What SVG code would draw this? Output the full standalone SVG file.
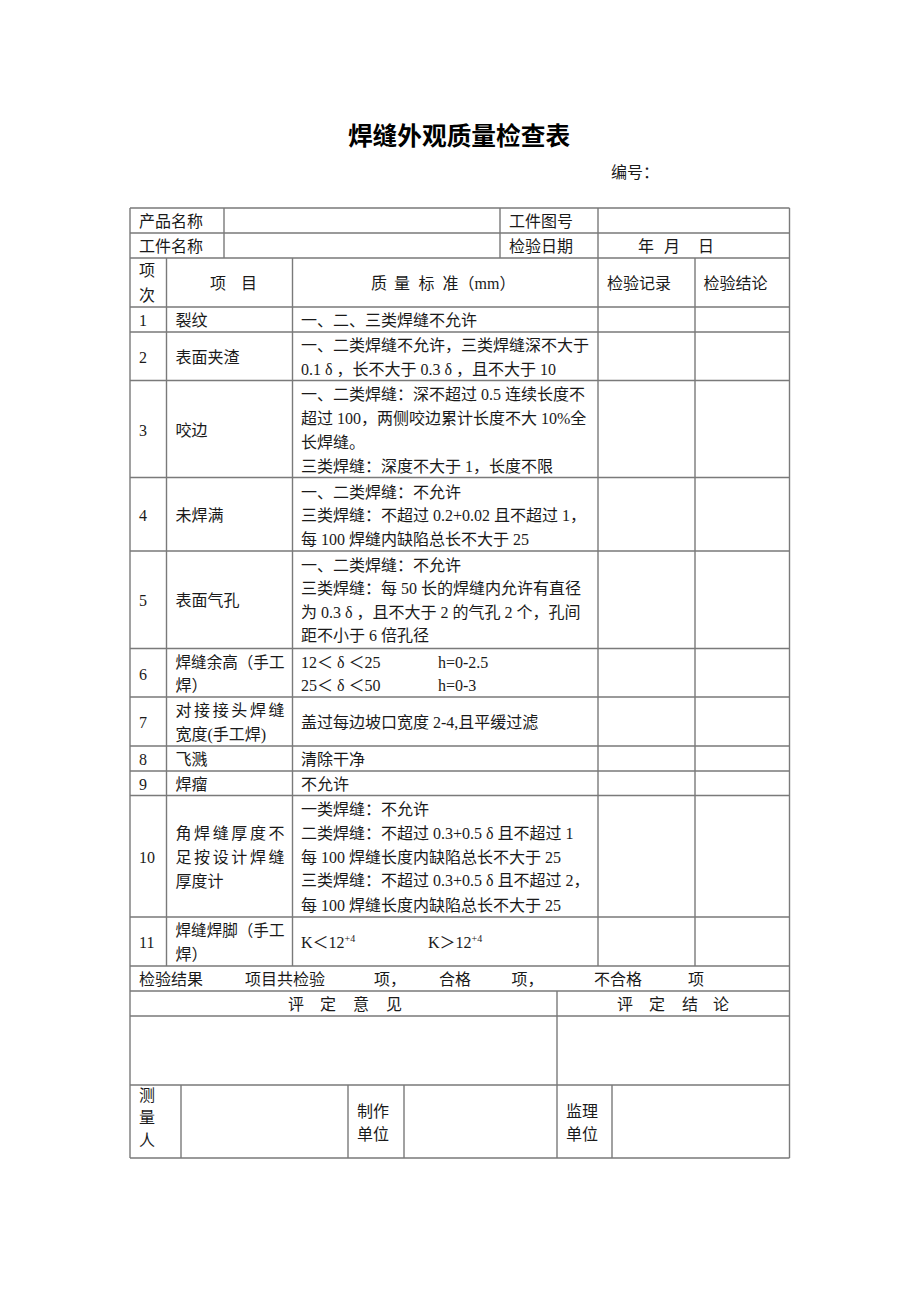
<svg xmlns="http://www.w3.org/2000/svg" width="920" height="1302" viewBox="0 0 920 1302">
<style>
  .t { font-family: "Liberation Serif", "Noto Sans CJK SC", serif; font-size: 16px; fill: #1a1a1a; }
  .ttl { font-family: "Noto Sans CJK SC", "Liberation Sans", sans-serif; font-size: 24.7px; font-weight: 700; fill: #000; }
  .grid { stroke: #7a7a7a; stroke-width: 1.4; fill: none; }
  .sup { font-size: 10px; }
  .d { letter-spacing: 4px; }
</style>
<rect width="920" height="1302" fill="#ffffff"/>
<g id="title">
  <text class="ttl" x="459" y="145" text-anchor="middle">焊缝外观质量检查表</text>
  <text class="t" x="611" y="178">编号：</text>
</g>
<g id="grid">
  <path class="grid" d="M130,208H789.5 M130,233H789.5 M130,258H789.5 M130,307H789.5 M130,332H789.5 M130,380.5H789.5 M130,477.5H789.5 M130,551H789.5 M130,648.5H789.5 M130,697H789.5 M130,746H789.5 M130,771H789.5 M130,795.5H789.5 M130,917H789.5 M130,966H789.5 M130,991H789.5 M130,1016H789.5 M130,1085H789.5 M130,1158H789.5"/>
  <path class="grid" d="M130,208V1158 M789.5,208V1158 M224,208V258 M500,208V258 M598,208V966 M166.5,258V966 M292.5,258V966 M695,258V966 M557,991V1158 M181,1085V1158 M348,1085V1158 M404,1085V1158 M612,1085V1158"/>
</g>
<g id="header">
  <text class="t" x="139" y="227">产品名称</text>
  <text class="t" x="509" y="227">工件图号</text>
  <text class="t" x="139" y="252">工件名称</text>
  <text class="t" x="509" y="252">检验日期</text>
  <text class="t" x="638" y="252">年 <tspan x="664">月 </tspan><tspan x="698">日</tspan></text>
  <text class="t" x="139" y="276">项</text>
  <text class="t" x="139" y="301">次</text>
  <text class="t" x="210" y="289">项 <tspan x="241">目</tspan></text>
  <text class="t" x="371" y="289">质 <tspan x="394">量 </tspan><tspan x="418.5">标 </tspan><tspan x="442.5">准（mm）</tspan></text>
  <text class="t" x="607" y="289">检验记录</text>
  <text class="t" x="703.5" y="289">检验结论</text>
</g>
<g id="row1">
  <text class="t" x="139" y="326">1</text>
  <text class="t" x="175.5" y="326">裂纹</text>
  <text class="t" x="301" y="326">一、二、三类焊缝不允许</text>
</g>
<g id="row2">
  <text class="t" x="139" y="363">2</text>
  <text class="t" x="175.5" y="363">表面夹渣</text>
  <text class="t" x="301" y="351">一、二类焊缝不允许，三类焊缝深不大于</text>
  <text class="t" x="301" y="374.5">0.1<tspan class="d" dx="4">δ</tspan>，长不大于 0.3<tspan class="d" dx="4">δ</tspan>，且不大于 10</text>
</g>
<g id="row3">
  <text class="t" x="139" y="435.5">3</text>
  <text class="t" x="175.5" y="435.5">咬边</text>
  <text class="t" x="301" y="399.5">一、二类焊缝：深不超过 0.5 连续长度不</text>
  <text class="t" x="301" y="423.5">超过 100，两侧咬边累计长度不大 10%全</text>
  <text class="t" x="301" y="448">长焊缝。</text>
  <text class="t" x="301" y="472">三类焊缝：深度不大于 1，长度不限</text>
</g>
<g id="row4">
  <text class="t" x="139" y="521">4</text>
  <text class="t" x="175.5" y="521">未焊满</text>
  <text class="t" x="301" y="498">一、二类焊缝：不允许</text>
  <text class="t" x="301" y="521">三类焊缝：不超过 0.2+0.02 且不超过 1，</text>
  <text class="t" x="301" y="544.5">每 100 焊缝内缺陷总长不大于 25</text>
</g>
<g id="row5">
  <text class="t" x="139" y="606">5</text>
  <text class="t" x="175.5" y="606">表面气孔</text>
  <text class="t" x="301" y="571">一、二类焊缝：不允许</text>
  <text class="t" x="301" y="594">三类焊缝：每 50 长的焊缝内允许有直径</text>
  <text class="t" x="301" y="618">为 0.3<tspan class="d" dx="4">δ</tspan>，且不大于 2 的气孔 2 个，孔间</text>
  <text class="t" x="301" y="641">距不小于 6 倍孔径</text>
</g>
<g id="row6">
  <text class="t" x="139" y="679.5">6</text>
  <text class="t" x="175.5" y="668" textLength="109" lengthAdjust="spacingAndGlyphs">焊缝余高（手工</text>
  <text class="t" x="175.5" y="691">焊）</text>
  <text class="t" x="301" y="668">12＜<tspan class="d" dx="4">δ</tspan>＜25 <tspan x="438">h=0-2.5</tspan></text>
  <text class="t" x="301" y="691">25＜<tspan class="d" dx="4">δ</tspan>＜50 <tspan x="438">h=0-3</tspan></text>
</g>
<g id="row7">
  <text class="t" x="139" y="728">7</text>
  <text class="t" x="175.5" y="716" textLength="109" lengthAdjust="spacing">对接接头焊缝</text>
  <text class="t" x="175.5" y="739.5">宽度(手工焊)</text>
  <text class="t" x="301" y="728">盖过每边坡口宽度 2-4,且平缓过滤</text>
</g>
<g id="row8">
  <text class="t" x="139" y="764.5">8</text>
  <text class="t" x="175.5" y="764.5">飞溅</text>
  <text class="t" x="301" y="764.5">清除干净</text>
</g>
<g id="row9">
  <text class="t" x="139" y="790">9</text>
  <text class="t" x="175.5" y="790">焊瘤</text>
  <text class="t" x="301" y="790">不允许</text>
</g>
<g id="row10">
  <text class="t" x="139" y="863">10</text>
  <text class="t" x="175.5" y="839" textLength="109" lengthAdjust="spacing">角焊缝厚度不</text>
  <text class="t" x="175.5" y="863" textLength="109" lengthAdjust="spacing">足按设计焊缝</text>
  <text class="t" x="175.5" y="887">厚度计</text>
  <text class="t" x="301" y="814.5">一类焊缝：不允许</text>
  <text class="t" x="301" y="839">二类焊缝：不超过 0.3+0.5<tspan class="d" dx="4">δ</tspan>且不超过 1</text>
  <text class="t" x="301" y="863">每 100 焊缝长度内缺陷总长不大于 25</text>
  <text class="t" x="301" y="886">三类焊缝：不超过 0.3+0.5<tspan class="d" dx="4">δ</tspan>且不超过 2，</text>
  <text class="t" x="301" y="911">每 100 焊缝长度内缺陷总长不大于 25</text>
</g>
<g id="row11">
  <text class="t" x="139" y="948">11</text>
  <text class="t" x="175.5" y="935.5" textLength="109" lengthAdjust="spacingAndGlyphs">焊缝焊脚（手工</text>
  <text class="t" x="175.5" y="959.5">焊）</text>
  <text class="t" x="301" y="948">K＜12<tspan class="sup" dy="-6">+4</tspan></text>
  <text class="t" x="428" y="948">K＞12<tspan class="sup" dy="-6">+4</tspan></text>
</g>
<g id="result">
  <text class="t" x="139" y="984.5">检验结果 <tspan x="245">项目共检验 </tspan><tspan x="374">项， </tspan><tspan x="439">合格 </tspan><tspan x="511.5">项， </tspan><tspan x="594">不合格 </tspan><tspan x="688">项</tspan></text>
</g>
<g id="evaluation">
  <text class="t" x="288" y="1009.5">评 <tspan x="320">定 </tspan><tspan x="353">意 </tspan><tspan x="386">见</tspan></text>
  <text class="t" x="617" y="1009.5">评 <tspan x="649">定 </tspan><tspan x="682">结 </tspan><tspan x="713">论</tspan></text>
</g>
<g id="signatures">
  <text class="t" x="139" y="1101">测<tspan x="139" y="1123">量</tspan><tspan x="139" y="1146">人</tspan></text>
  <text class="t" x="357" y="1117">制作<tspan x="357" y="1139.5">单位</tspan></text>
  <text class="t" x="566" y="1117">监理<tspan x="566" y="1139.5">单位</tspan></text>
</g>
</svg>
